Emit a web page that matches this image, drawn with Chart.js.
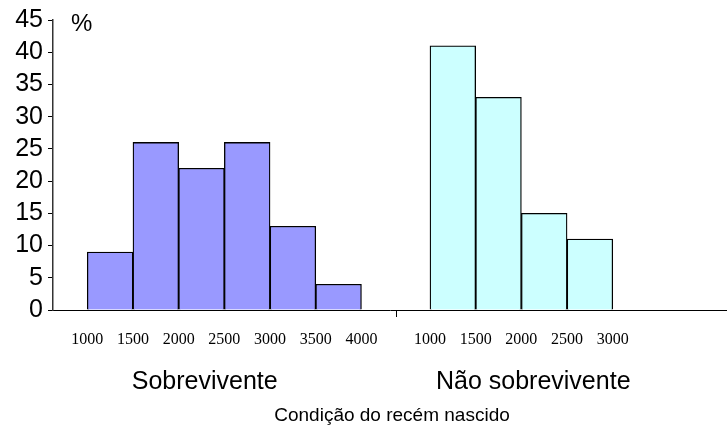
<!DOCTYPE html>
<html>
<head>
<meta charset="utf-8">
<script src="https://cdn.jsdelivr.net/npm/chart.js@4.4.1/dist/chart.umd.min.js"></script>
<style>
    body { margin: 0; background: #fff; }
    #wrap { width: 727px; height: 426px; }
</style>
</head>
<body>
<div id="wrap"><canvas id="histChart"></canvas></div>
<script>
// Histogram data (birth weight bins, %)
const survivorEdges = ['1000', '1500', '2000', '2500', '3000', '3500', '4000'];
const survivorValues = [9, 26, 22, 26, 13, 4];
const nonSurvivorEdges = ['1000', '1500', '2000', '2500', '3000'];
const nonSurvivorValues = [41, 33, 15, 11];
const groupLabels = ['Sobrevivente', 'Não sobrevivente'];
const axisTitle = 'Condição do recém nascido';

// both groups share one numeric x axis, one unit per bin
const survivorStart = 1;
const nonSurvivorStart = 8.5;
const dividerAt = 7.75;
const groupLabelAt = [3.57, 10.76];

const tickList = [
    ...survivorEdges.map((l, i) => ({ value: survivorStart + i, label: l })),
    ...nonSurvivorEdges.map((l, i) => ({ value: nonSurvivorStart + i, label: l }))
];

const SANS = 'Arial, "Liberation Sans", sans-serif';
const SERIF = '"Times New Roman", "Liberation Serif", serif';

const textPlugin = {
    id: 'extraText',
    afterDraw(chart) {
        const { ctx, chartArea, scales: { x } } = chart;
        ctx.save();
        ctx.fillStyle = '#000';
        ctx.strokeStyle = '#000';
        ctx.lineWidth = 1;

        // small divider tick between the two groups
        const dx = Math.round(x.getPixelForValue(dividerAt)) + 0.5;
        ctx.beginPath();
        ctx.moveTo(dx, chartArea.bottom);
        ctx.lineTo(dx, chartArea.bottom + 7);
        ctx.stroke();

        ctx.textBaseline = 'alphabetic';
        ctx.textAlign = 'center';
        ctx.font = '25px ' + SANS;
        groupLabels.forEach((t, i) => {
            ctx.fillText(t, x.getPixelForValue(groupLabelAt[i]), chartArea.bottom + 79);
        });

        ctx.font = '19px ' + SANS;
        ctx.fillText(axisTitle, (chartArea.left + chartArea.right) / 2 + 2, chartArea.bottom + 111);

        ctx.textAlign = 'left';
        ctx.font = '24px ' + SANS;
        ctx.fillText('%', chartArea.left + 18, chartArea.top + 11);
        ctx.restore();
    }
};

new Chart(document.getElementById('histChart'), {
    type: 'bar',
    data: {
        datasets: [{
            label: groupLabels[0],
            data: survivorValues.map((v, i) => ({ x: survivorStart + i + 0.5, y: v })),
            backgroundColor: '#9999ff'
        }, {
            label: groupLabels[1],
            data: nonSurvivorValues.map((v, i) => ({ x: nonSurvivorStart + i + 0.5, y: v })),
            backgroundColor: '#ccffff'
        }]
    },
    options: {
        responsive: true,
        maintainAspectRatio: false,
        animation: false,
        devicePixelRatio: 1,
        layout: { padding: { top: 20, left: 0, right: 0, bottom: 0 } },
        datasets: {
            bar: {
                grouped: false,
                barPercentage: 1,
                categoryPercentage: 1,
                borderColor: '#000',
                borderWidth: 1.3
            }
        },
        plugins: {
            legend: { display: false },
            tooltip: { enabled: false }
        },
        scales: {
            x: {
                type: 'linear',
                offset: false,
                min: 0.25,
                max: 15,
                afterBuildTicks: scale => {
                    scale.ticks = tickList.map(t => ({ value: t.value }));
                },
                afterFit: scale => { scale.height = 116; },
                ticks: {
                    autoSkip: false,
                    maxRotation: 0,
                    padding: 13,
                    color: '#000',
                    font: { family: SERIF, size: 16 },
                    callback: value => {
                        const t = tickList.find(k => k.value === value);
                        return t ? t.label : '';
                    }
                },
                grid: { display: true, offset: false, drawOnChartArea: false, tickLength: 7, color: 'rgba(0,0,0,0)' },
                border: { display: true, color: '#000', width: 1 }
            },
            y: {
                min: 0,
                max: 45,
                afterFit: scale => { scale.width = 53; },
                ticks: {
                    stepSize: 5,
                    autoSkip: false,
                    padding: 5,
                    color: '#000',
                    font: { family: SANS, size: 25 }
                },
                grid: { display: true, drawOnChartArea: false, tickLength: 5, color: '#000', lineWidth: 1 },
                border: { display: true, color: '#333', width: 1.5 }
            }
        }
    },
    plugins: [textPlugin]
});
</script>
</body>
</html>
